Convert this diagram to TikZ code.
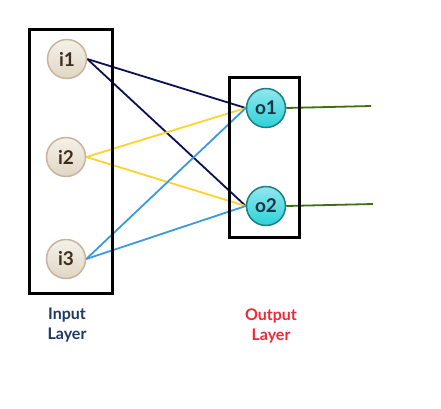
\documentclass[tikz,border=0pt]{standalone}
\usepackage{fontspec}
\setmainfont{Lato}
\usetikzlibrary{backgrounds}
\definecolor{navyedge}{HTML}{0B1150}
\definecolor{yellowedge}{HTML}{FFD22E}
\definecolor{blueedge}{HTML}{3A9ADB}
\definecolor{greenedge}{HTML}{3F6F12}
\definecolor{inborder}{HTML}{C8B49C}
\definecolor{intop}{HTML}{F5F1E9}
\definecolor{inbot}{HTML}{E0D6C4}
\definecolor{intext}{HTML}{3E2E1E}
\definecolor{outborder}{HTML}{1B7F80}
\definecolor{outtop}{HTML}{92E6EE}
\definecolor{outbot}{HTML}{2CD2D9}
\definecolor{outtext}{HTML}{1C3444}
\definecolor{inlabel}{HTML}{1F3864}
\definecolor{outlabel}{HTML}{EE2A3A}
\tikzset{
  innode/.style={circle, minimum size=39pt, inner sep=0pt, draw=inborder, line width=1.5pt,
    top color=intop, bottom color=inbot, text=intext, font=\fontsize{19}{22}\selectfont\bfseries},
  outnode/.style={circle, minimum size=39pt, inner sep=0pt, draw=outborder, line width=1.5pt,
    top color=outtop, bottom color=outbot, text=outtext, font=\fontsize{19}{22}\selectfont\bfseries},
  layerbox/.style={draw=black, line width=3pt},
  edge/.style={line width=1.8pt},
  lbl/.style={align=center, font=\fontsize{16}{20}\selectfont\bfseries}
}
\begin{document}
\begin{tikzpicture}[x=1pt,y=-1pt]
\useasboundingbox (0,0) rectangle (441,408);
\draw[layerbox] (29,29) rectangle (112,293);
\draw[layerbox] (229,77) rectangle (299,237);
\node[innode] (i1) at (67,59) {i1};
\node[innode] (i2) at (66,157) {i2};
\node[innode] (i3) at (66,259) {i3};
\node[outnode] (o1) at (266,108) {o1};
\node[outnode] (o2) at (266,206) {o2};
\coordinate (y1) at (371,106);
\coordinate (y2) at (373,204);
\node[lbl, text=inlabel] (lin) at (67,325) {Input\\Layer};
\node[lbl, text=outlabel] (lout) at (271,326) {Output\\Layer};
\begin{scope}[on background layer]
\fill[white] (0,0) rectangle (441,408);
\draw[edge, navyedge] (i1.east) -- (o1.west);
\draw[edge, navyedge] (i1.east) -- (o2.west);
\draw[edge, yellowedge] (i2.east) -- (o1.west);
\draw[edge, yellowedge] (i2.east) -- (o2.west);
\draw[edge, blueedge] (i3.east) -- (o1.west);
\draw[edge, blueedge] (i3.east) -- (o2.west);
\draw[edge, greenedge] (o1.east) -- (y1);
\draw[edge, greenedge] (o2.east) -- (y2);
\end{scope}
\end{tikzpicture}
\end{document}
